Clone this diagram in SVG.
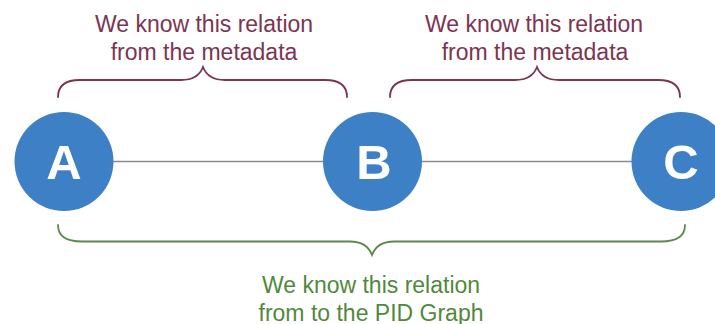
<svg xmlns="http://www.w3.org/2000/svg" width="715" height="324" viewBox="0 0 715 324">
  <style>
    .node circle { fill: #3d80c6; }
    .node text { font-family: "Liberation Sans", Arial, sans-serif; font-weight: bold; font-size: 49px; fill: #ffffff; text-anchor: middle; }
    .edge { stroke: #8a8a8a; stroke-width: 1.6; fill: none; }
    .brace { fill: none; stroke-width: 1.8; stroke-linecap: round; }
    .meta { stroke: #7c3453; }
    .pid { stroke: #5a8a4a; }
    .label { font-family: "Liberation Sans", Arial, sans-serif; font-size: 23px; text-anchor: middle; }
    .meta-text { fill: #7c3453; }
    .pid-text { fill: #4f8a3c; }
  </style>

  <rect width="715" height="324" fill="#ffffff"/>

  <!-- connectors between the nodes -->
  <g id="edges">
    <line class="edge" x1="113" y1="161.5" x2="323" y2="161.5"/>
    <line class="edge" x1="422" y1="161.5" x2="632" y2="161.5"/>
  </g>

  <!-- nodes -->
  <g id="node-a" class="node">
    <circle cx="64" cy="161.5" r="49.5"/>
    <text x="64" y="179">A</text>
  </g>
  <g id="node-b" class="node">
    <circle cx="372.5" cy="161.5" r="49.5"/>
    <text x="374" y="179">B</text>
  </g>
  <g id="node-c" class="node">
    <circle cx="681" cy="161.5" r="49.5"/>
    <text x="681" y="179">C</text>
  </g>

  <!-- relation A-B from metadata -->
  <g id="brace-ab">
    <path class="brace meta" d="M58,97 C58,85 66,80 80,80 L181,80 C193,80 200,75 203,67 C206,75 213,80 225,80 L325,80 C339,80 347,85 347,97"/>
    <text class="label meta-text" x="204" y="31.5">We know this relation</text>
    <text class="label meta-text" x="204" y="59.5">from the metadata</text>
  </g>

  <!-- relation B-C from metadata -->
  <g id="brace-bc">
    <path class="brace meta" d="M390,97 C390,85 398,80 412,80 L515,80 C527,80 534,75 537,67 C540,75 547,80 559,80 L658,80 C672,80 680,85 680,97"/>
    <text class="label meta-text" x="534" y="31.5">We know this relation</text>
    <text class="label meta-text" x="535" y="59.5">from the metadata</text>
  </g>

  <!-- relation A-C from the PID Graph -->
  <g id="brace-ac">
    <path class="brace pid" d="M58,225 C58,236 66,241.5 82,241.5 L350,241.5 C362,241.5 369,247 372,255 C375,247 382,241.5 394,241.5 L661,241.5 C677,241.5 685,236 685,225"/>
    <text class="label pid-text" x="371" y="292.5">We know this relation</text>
    <text class="label pid-text" x="371" y="320.5">from to the PID Graph</text>
  </g>
</svg>
